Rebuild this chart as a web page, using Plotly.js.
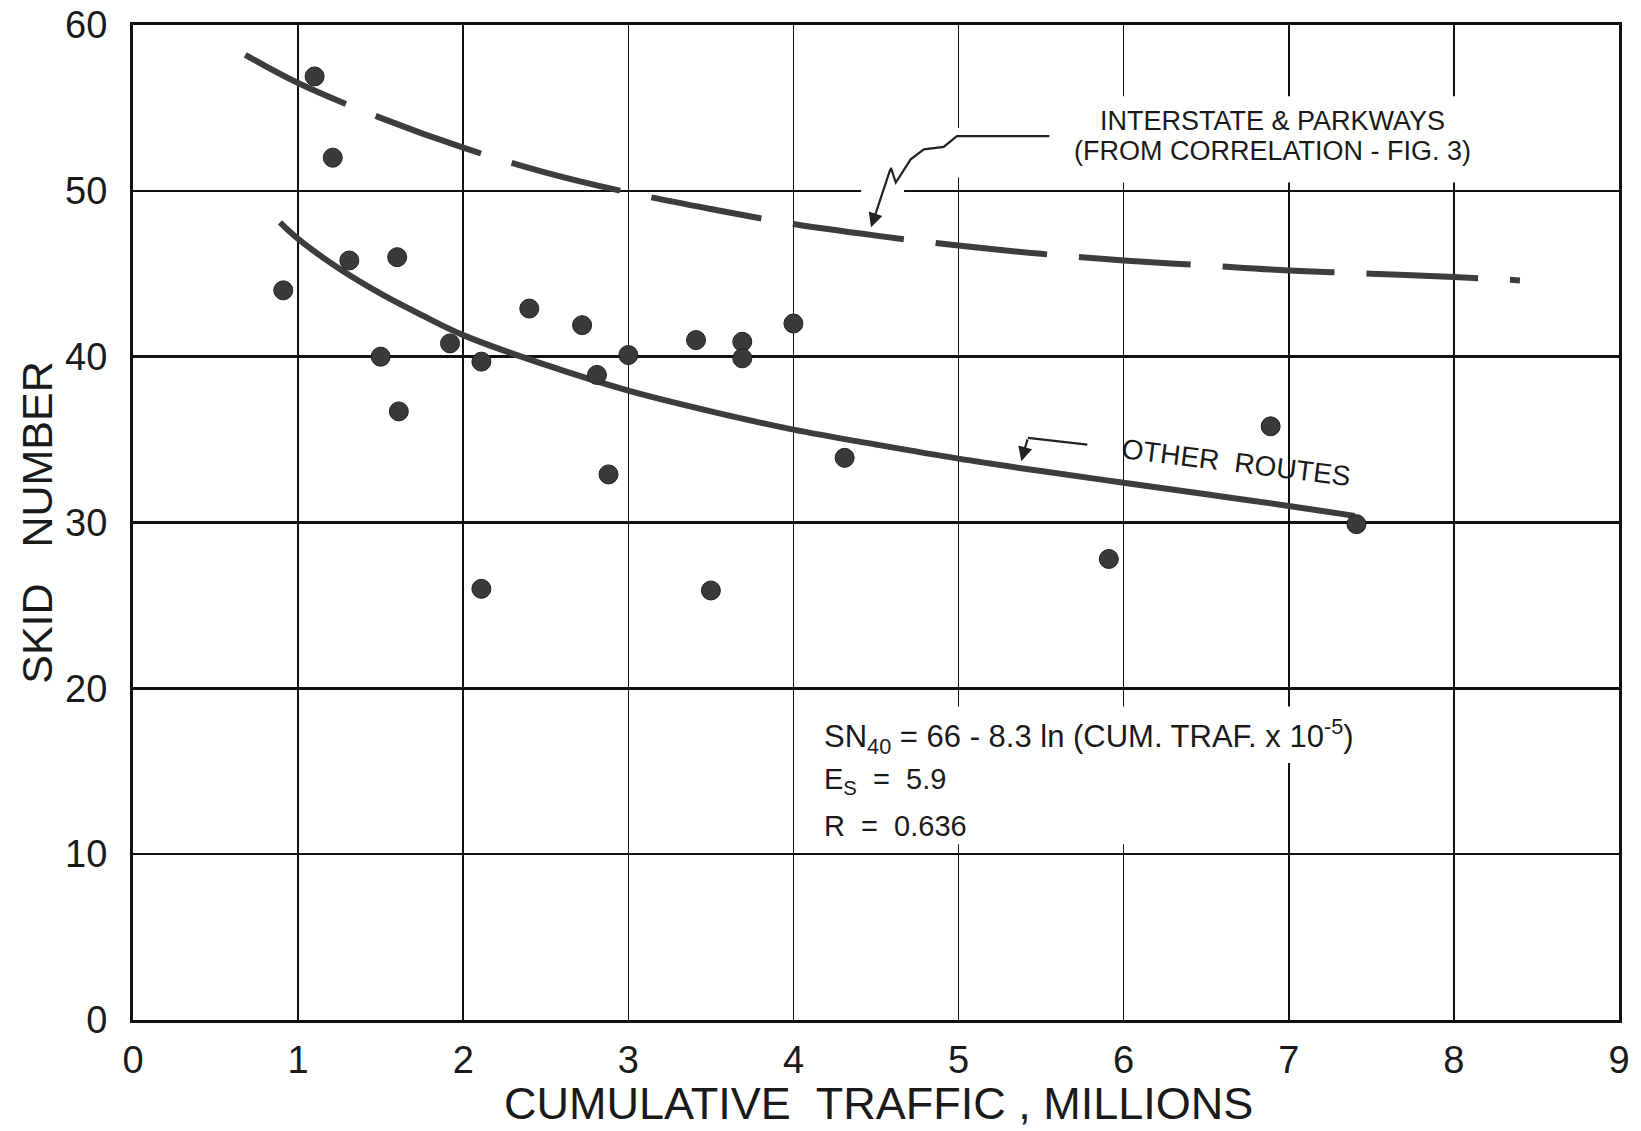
<!DOCTYPE html>
<html>
<head>
<meta charset="utf-8">
<script src="https://cdn.plot.ly/plotly-3.0.1.min.js"></script>
<style>
  html, body { margin: 0; padding: 0; background: #fff; }
  #chart { width: 1641px; height: 1131px; }
</style>
</head>
<body>
<div id="chart"></div>
<script>
// ---- Data ----
// Observed points: cumulative traffic (millions) vs skid number
const pointTraffic = [0.91, 1.10, 1.21, 1.31, 1.50, 1.60, 1.61, 1.92, 2.11, 2.11, 2.40, 2.72, 2.81, 2.88, 3.00, 3.41, 3.50, 3.69, 3.69, 4.00, 4.31, 5.91, 6.89, 7.41];
const pointSkid    = [44.0, 56.9, 52.0, 45.8, 40.0, 46.0, 36.7, 40.8, 39.7, 26.0, 42.9, 41.9, 38.9, 32.9, 40.1, 41.0, 25.9, 40.9, 39.9, 42.0, 33.9, 27.8, 35.8, 29.9];

// "Other routes" fitted curve
const otherTraffic = [0.89, 1.0, 1.25, 1.5, 1.75, 2.0, 2.5, 3.0, 3.5, 4.0, 4.5, 5.0, 5.5, 6.0, 6.5, 7.0, 7.4];
const otherSkid    = [48.1, 47.1, 45.3, 43.8, 42.5, 41.3, 39.5, 37.95, 36.7, 35.6, 34.7, 33.85, 33.1, 32.4, 31.7, 31.0, 30.4];

// "Interstate & Parkways" curve (dashed)
const interTraffic = [0.68, 1.0, 1.5, 2.0, 2.5, 3.0, 3.5, 4.0, 4.5, 5.0, 5.5, 6.0, 6.5, 7.0, 7.5, 8.0, 8.4];
const interSkid    = [58.2, 56.5, 54.4, 52.6, 51.1, 49.9, 48.9, 48.0, 47.3, 46.7, 46.2, 45.8, 45.5, 45.2, 45.0, 44.8, 44.6];

// Tick labels
const xTickVals = [0, 1, 2, 3, 4, 5, 6, 7, 8, 9];
const xTickText = ['0', '1', '2', '3', '4', '5', '6', '7', '8', '9'];
const yTickVals = [0, 10, 20, 30, 40, 50, 60];
const yTickText = ['0', '10', '20', '30', '40', '50', '60'];

// Texts
const xTitle = 'CUMULATIVE&nbsp;&nbsp;TRAFFIC , MILLIONS';
const yTitle = 'SKID&nbsp;&nbsp;&nbsp;NUMBER';
const interLabel1 = 'INTERSTATE &amp; PARKWAYS';
const interLabel2 = '(FROM CORRELATION - FIG. 3)';
const otherLabel = 'OTHER&nbsp;&nbsp;ROUTES';
const eqLine1 = 'SN<sub>40</sub> = 66 - 8.3 ln (CUM. TRAF. x 10<sup>-5</sup>)';
const eqLine2 = 'E<sub>S</sub>&nbsp;&nbsp;=&nbsp;&nbsp;5.9';
const eqLine3 = 'R&nbsp;&nbsp;=&nbsp;&nbsp;0.636';

const ink = '#1a1a1a';
const lineInk = '#3d3d3d';
const fontFam = 'Liberation Sans, Arial, Helvetica, sans-serif';

const traces = [
  {
    x: interTraffic, y: interSkid, type: 'scatter', mode: 'lines',
    line: { color: lineInk, width: 6, dash: '112px,32px', shape: 'spline', smoothing: 1 },
    hoverinfo: 'skip'
  },
  {
    x: otherTraffic, y: otherSkid, type: 'scatter', mode: 'lines',
    line: { color: lineInk, width: 6, shape: 'spline', smoothing: 1 },
    hoverinfo: 'skip'
  },
  {
    x: pointTraffic, y: pointSkid, type: 'scatter', mode: 'markers',
    marker: { color: '#3a3a3a', size: 19, line: { color: '#222', width: 1 } }
  }
];

const whiteRect = (x0, x1, y0, y1) => ({
  type: 'rect', xref: 'x', yref: 'y', x0: x0, x1: x1, y0: y0, y1: y1,
  fillcolor: '#ffffff', line: { width: 0 }, layer: 'between'
});

const layout = {
  width: 1641,
  height: 1131,
  margin: { l: 133, r: 22, t: 25, b: 111 },
  paper_bgcolor: '#ffffff',
  plot_bgcolor: '#ffffff',
  showlegend: false,
  font: { family: fontFam, color: ink },
  xaxis: {
    range: [0, 9],
    tickvals: xTickVals, ticktext: xTickText,
    showgrid: true, gridcolor: '#111', gridwidth: 1.6,
    showline: true, linecolor: '#111', linewidth: 3, mirror: true,
    zeroline: false, ticks: '',
    ticklabelstandoff: 4,
    automargin: false,
    tickfont: { size: 38, family: fontFam, color: ink }
  },
  yaxis: {
    range: [0, 60],
    tickvals: yTickVals, ticktext: yTickText,
    showgrid: true, gridcolor: '#111', gridwidth: 2.6,
    showline: true, linecolor: '#111', linewidth: 3, mirror: true,
    zeroline: false, ticks: '',
    ticklabelstandoff: 15,
    automargin: false,
    tickfont: { size: 38, family: fontFam, color: ink },
    title: { text: yTitle, font: { size: 43, family: fontFam, color: ink }, standoff: 0 }
  },
  shapes: [
    // gaps in the grid behind the hand lettering
    whiteRect(4.95, 5.05, 50.8, 53.8),
    whiteRect(5.55, 8.25, 50.5, 55.7),
    whiteRect(4.41, 4.67, 49.7, 50.3),
    whiteRect(4.15, 7.5, 15.5, 18.9),
    whiteRect(4.9, 6.1, 10.6, 15.5),
    // squiggly leader for the Interstate label
    {
      type: 'path', xref: 'x', yref: 'y',
      path: 'M5.55,53.3 L4.99,53.3 L4.91,52.65 L4.79,52.5 L4.71,51.9 L4.62,50.5 L4.59,51.4',
      line: { color: '#222', width: 2.2 }
    },
    // leader for Other Routes
    {
      type: 'path', xref: 'x', yref: 'y',
      path: 'M5.78,34.7 L5.42,35.1',
      line: { color: '#222', width: 2.2 }
    }
  ],
  annotations: [
    // x-axis title (placed below the tick labels)
    { x: 0.502, y: -0.0844, xref: 'paper', yref: 'paper', text: xTitle, showarrow: false,
      font: { size: 45, family: fontFam, color: ink }, xanchor: 'center', yanchor: 'middle' },
    { x: 6.9, y: 54.2, xref: 'x', yref: 'y', text: interLabel1, showarrow: false,
      font: { size: 27, family: fontFam, color: ink }, xanchor: 'center', yanchor: 'middle' },
    { x: 6.9, y: 52.4, xref: 'x', yref: 'y', text: interLabel2, showarrow: false,
      font: { size: 27, family: fontFam, color: ink }, xanchor: 'center', yanchor: 'middle' },
    { x: 4.47, y: 47.8, xref: 'x', yref: 'y', ax: 4.59, ay: 51.4, axref: 'x', ayref: 'y',
      text: '', showarrow: true, arrowhead: 2, arrowsize: 1.3, arrowwidth: 2.2, arrowcolor: '#222' },
    { x: 5.38, y: 33.7, xref: 'x', yref: 'y', ax: 5.42, ay: 35.1, axref: 'x', ayref: 'y',
      text: '', showarrow: true, arrowhead: 2, arrowsize: 1.3, arrowwidth: 2.2, arrowcolor: '#222' },
    { x: 6.68, y: 33.6, xref: 'x', yref: 'y', text: otherLabel, showarrow: false, textangle: 7,
      font: { size: 28, family: fontFam, color: ink }, xanchor: 'center', yanchor: 'middle' },
    { x: 4.17, y: 17.1, xref: 'x', yref: 'y', text: eqLine1, showarrow: false,
      font: { size: 31, family: fontFam, color: ink }, xanchor: 'left', yanchor: 'middle' },
    { x: 4.17, y: 14.4, xref: 'x', yref: 'y', text: eqLine2, showarrow: false,
      font: { size: 29, family: fontFam, color: ink }, xanchor: 'left', yanchor: 'middle' },
    { x: 4.17, y: 11.7, xref: 'x', yref: 'y', text: eqLine3, showarrow: false,
      font: { size: 29, family: fontFam, color: ink }, xanchor: 'left', yanchor: 'middle' }
  ]
};

Plotly.newPlot('chart', traces, layout, { displayModeBar: false, staticPlot: true });
</script>
</body>
</html>
